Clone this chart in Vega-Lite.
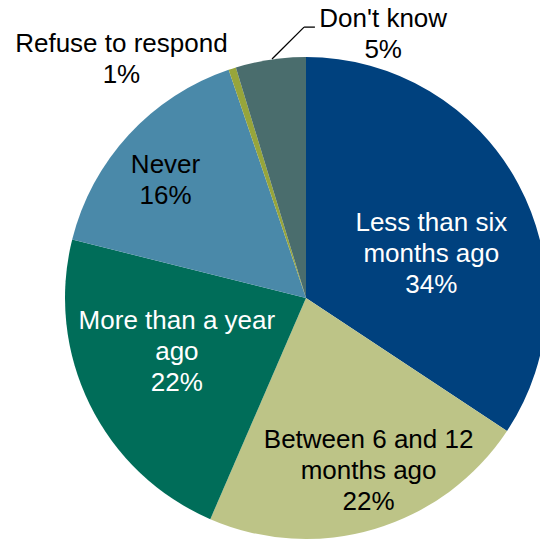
{
  "$schema": "https://vega.github.io/schema/vega-lite/v6.json",
  "width": 468,
  "height": 482,
  "autosize": {"type": "none"},
  "padding": {"left": 72, "top": 57, "right": 0, "bottom": 4},
  "background": "white",
  "view": {"stroke": null},
  "config": {"text": {"font": "Liberation Sans"}},
  "data": {
    "values": [
      {"category": "Less than six months ago", "value": 34.3, "order": 1, "label": "Less than six\nmonths ago\n34%"},
      {"category": "Between 6 and 12 months ago", "value": 22.2, "order": 2, "label": "Between 6 and 12\nmonths ago\n22%"},
      {"category": "More than a year ago", "value": 22.4, "order": 3, "label": "More than a year\nago\n22%"},
      {"category": "Never", "value": 15.9, "order": 4, "label": "Never\n16%"},
      {"category": "Refuse to respond", "value": 0.5, "order": 5, "label": "Refuse to respond\n1%"},
      {"category": "Don't know", "value": 4.7, "order": 6, "label": "Don't know\n5%"}
    ]
  },
  "layer": [
    {
      "mark": {"type": "arc", "outerRadius": 241},
      "encoding": {
        "theta": {"field": "value", "type": "quantitative", "stack": true},
        "order": {"field": "order", "type": "quantitative"},
        "color": {
          "field": "category", "type": "nominal", "legend": null,
          "scale": {
            "domain": ["Less than six months ago", "Between 6 and 12 months ago", "More than a year ago", "Never", "Refuse to respond", "Don't know"],
            "range": ["#00417E", "#BDC487", "#006D59", "#4A89A9", "#97A53B", "#4A6D6D"]
          }
        }
      }
    },
    {
      "mark": {"type": "text", "radius": 140, "dx": 2, "dy": -1, "fontSize": 26, "lineHeight": 31, "lineBreak": "\n", "align": "center", "baseline": "alphabetic", "color": "white"},
      "encoding": {
        "theta": {"field": "value", "type": "quantitative", "stack": true},
        "order": {"field": "order", "type": "quantitative"},
        "detail": {"field": "category", "type": "nominal"},
        "text": {"condition": {"test": "datum.order === 1", "field": "label", "type": "nominal"}, "value": ""}
      }
    },
    {
      "mark": {"type": "text", "radius": 156.5, "dx": 18, "dy": 0, "fontSize": 26, "lineHeight": 31, "lineBreak": "\n", "align": "center", "baseline": "alphabetic", "color": "black"},
      "encoding": {
        "theta": {"field": "value", "type": "quantitative", "stack": true},
        "order": {"field": "order", "type": "quantitative"},
        "detail": {"field": "category", "type": "nominal"},
        "text": {"condition": {"test": "datum.order === 2", "field": "label", "type": "nominal"}, "value": ""}
      }
    },
    {
      "mark": {"type": "text", "radius": 144, "dx": 0, "dy": -33, "fontSize": 26, "lineHeight": 31, "lineBreak": "\n", "align": "center", "baseline": "alphabetic", "color": "white"},
      "encoding": {
        "theta": {"field": "value", "type": "quantitative", "stack": true},
        "order": {"field": "order", "type": "quantitative"},
        "detail": {"field": "category", "type": "nominal"},
        "text": {"condition": {"test": "datum.order === 3", "field": "label", "type": "nominal"}, "value": ""}
      }
    },
    {
      "mark": {"type": "text", "radius": 191, "dx": 0, "dy": 4.5, "fontSize": 26, "lineHeight": 31, "lineBreak": "\n", "align": "center", "baseline": "alphabetic", "color": "black"},
      "encoding": {
        "theta": {"field": "value", "type": "quantitative", "stack": true},
        "order": {"field": "order", "type": "quantitative"},
        "detail": {"field": "category", "type": "nominal"},
        "text": {"condition": {"test": "datum.order === 4", "field": "label", "type": "nominal"}, "value": ""}
      }
    },
    {
      "mark": {"type": "text", "radius": 258.4, "dx": -105.5, "dy": 0, "fontSize": 26, "lineHeight": 31, "lineBreak": "\n", "align": "center", "baseline": "alphabetic", "color": "black"},
      "encoding": {
        "theta": {"field": "value", "type": "quantitative", "stack": true},
        "order": {"field": "order", "type": "quantitative"},
        "detail": {"field": "category", "type": "nominal"},
        "text": {"condition": {"test": "datum.order === 5", "field": "label", "type": "nominal"}, "value": ""}
      }
    },
    {
      "mark": {"type": "text", "radius": 274, "dx": 117.5, "dy": 0, "fontSize": 26, "lineHeight": 31, "lineBreak": "\n", "align": "center", "baseline": "alphabetic", "color": "black"},
      "encoding": {
        "theta": {"field": "value", "type": "quantitative", "stack": true},
        "order": {"field": "order", "type": "quantitative"},
        "detail": {"field": "category", "type": "nominal"},
        "text": {"condition": {"test": "datum.order === 6", "field": "label", "type": "nominal"}, "value": ""}
      }
    },
    {
      "data": {"values": [{"part": "leader"}]},
      "mark": {"type": "rule", "color": "black", "strokeWidth": 1.3},
      "encoding": {
        "x": {"datum": -0.141, "type": "quantitative", "scale": {"domain": [-0.97095, 0.97095], "nice": false, "zero": false}, "axis": null},
        "y": {"datum": 0.992, "type": "quantitative", "scale": {"domain": [-1, 1], "nice": false, "zero": false}, "axis": null},
        "x2": {"datum": -0.008},
        "y2": {"datum": 1.124}
      }
    },
    {
      "data": {"values": [{"part": "leader"}]},
      "mark": {"type": "rule", "color": "black", "strokeWidth": 1.3},
      "encoding": {
        "x": {"datum": -0.008, "type": "quantitative", "scale": {"domain": [-0.97095, 0.97095], "nice": false, "zero": false}, "axis": null},
        "y": {"datum": 1.124, "type": "quantitative", "scale": {"domain": [-1, 1], "nice": false, "zero": false}, "axis": null},
        "x2": {"datum": 0.037},
        "y2": {"datum": 1.124}
      }
    }
  ]
}
